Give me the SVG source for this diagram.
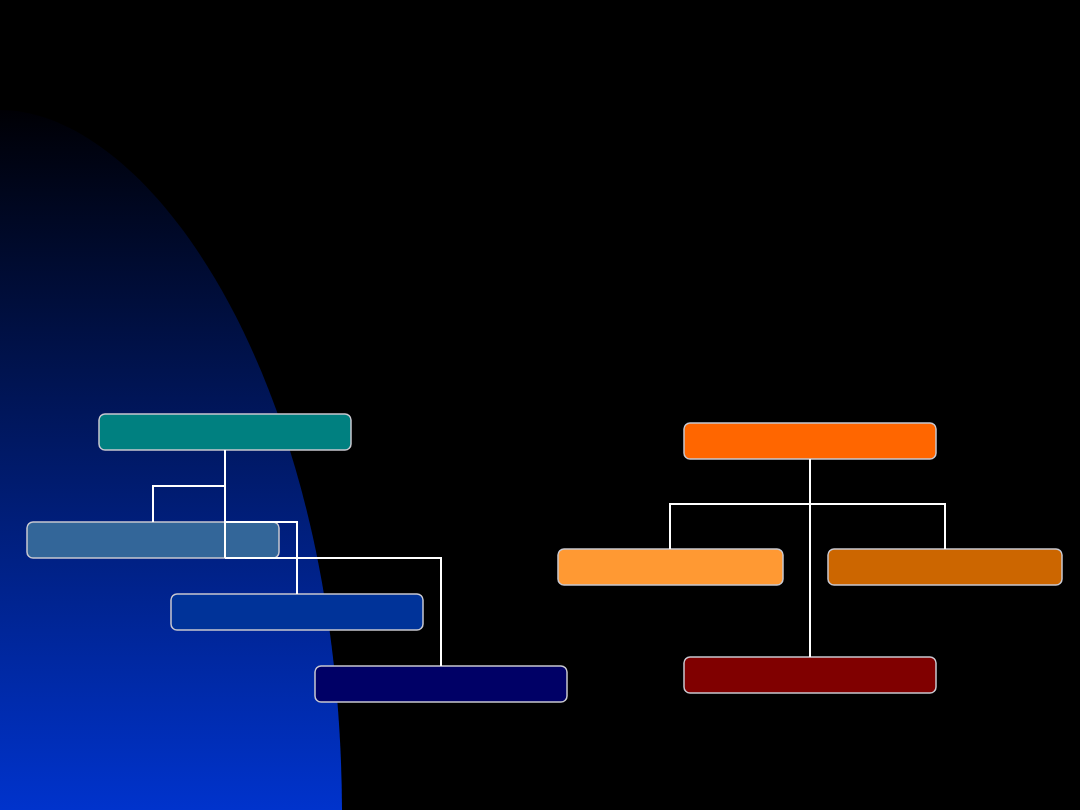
<svg xmlns="http://www.w3.org/2000/svg" width="1080" height="810" viewBox="0 0 1080 810">
  <defs>
    <linearGradient id="bg" gradientUnits="userSpaceOnUse" x1="0" y1="110" x2="0" y2="810">
      <stop offset="0" stop-color="#000005"/>
      <stop offset="1" stop-color="#0033cc"/>
    </linearGradient>
  </defs>
  <style>
    .box { stroke: #c8c8d0; stroke-width: 1.5; }
    .conn { stroke: #ffffff; stroke-width: 2; fill: none; }
  </style>
  <rect x="0" y="0" width="1080" height="810" fill="#000000"/>
  <path d="M0,110 C150,110 340,380 342,810 L0,810 Z" fill="url(#bg)"/>

  <g id="node-teal"><rect class="box" x="99" y="414" width="252" height="36" rx="6" fill="#008080"/></g>
  <g id="node-steel"><rect class="box" x="27" y="522" width="252" height="36" rx="6" fill="#336699"/></g>
  <g id="node-blue"><rect class="box" x="171" y="594" width="252" height="36" rx="6" fill="#003399"/></g>
  <g id="node-navy"><rect class="box" x="315" y="666" width="252" height="36" rx="6" fill="#000066"/></g>

  <g id="node-orange"><rect class="box" x="684" y="423" width="252" height="36" rx="6" fill="#ff6600"/></g>
  <g id="node-lightorange"><rect class="box" x="558" y="549" width="225" height="36" rx="6" fill="#ff9933"/></g>
  <g id="node-darkorange"><rect class="box" x="828" y="549" width="234" height="36" rx="6" fill="#cc6600"/></g>
  <g id="node-maroon"><rect class="box" x="684" y="657" width="252" height="36" rx="6" fill="#800000"/></g>

  <g id="connectors">
    <path class="conn" d="M225,450 V558 M225,486 H153 V522 M225,522 H297 V594 M225,558 H441 V666"/>
    <path class="conn" d="M810,459 V657 M670,549 V504 H945 V549"/>
  </g>
</svg>
